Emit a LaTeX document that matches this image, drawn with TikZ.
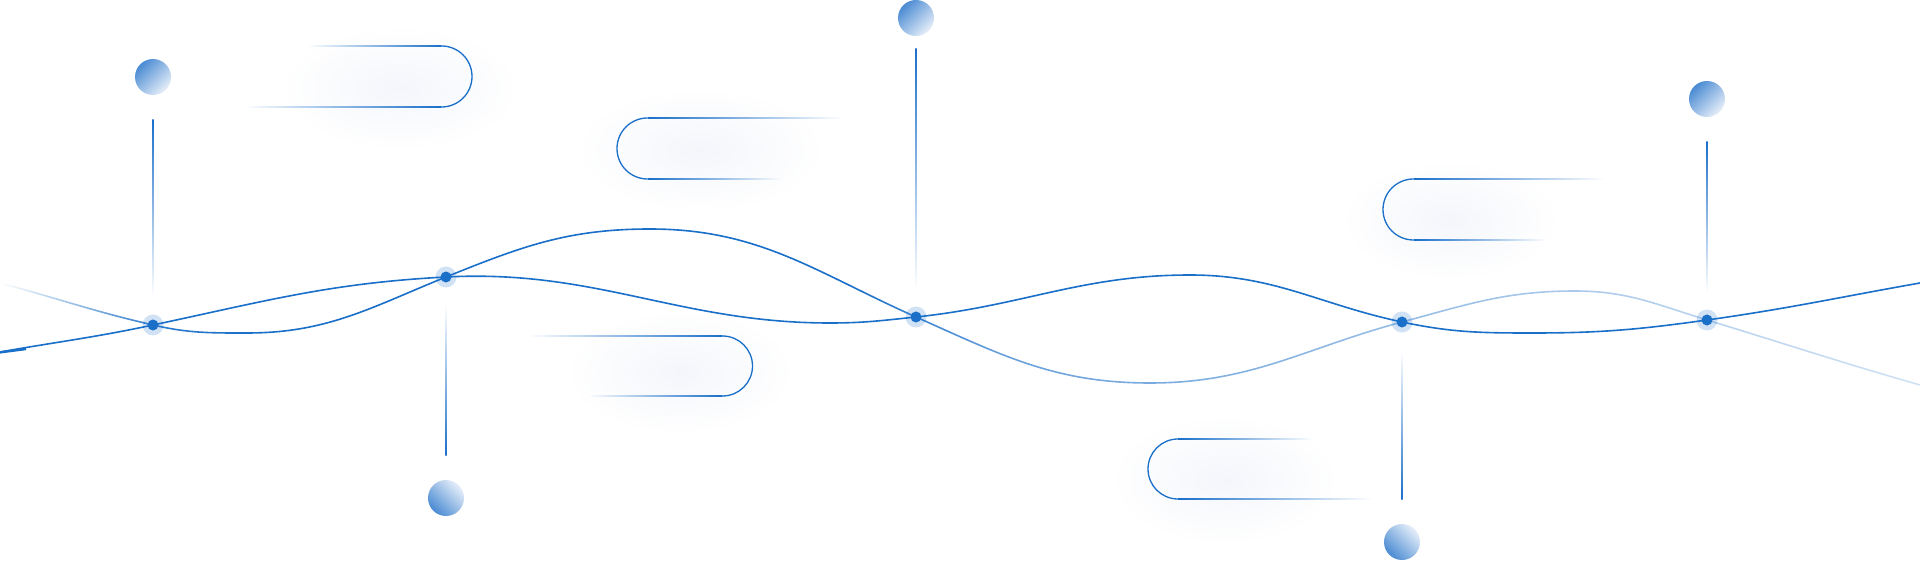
\documentclass[tikz,border=0pt]{standalone}
\usetikzlibrary{fadings}

\definecolor{lineblue}{HTML}{1A6FC9}
\definecolor{orbdark}{HTML}{4A8BD3}
\definecolor{orblight}{HTML}{E6EEF9}
\definecolor{glowcol}{HTML}{F4F6FB}

% Fondu de la deuxieme courbe
\begin{tikzfadingfrompicture}[name=wavefade, x=1pt, y=1pt]
  \shade[left color=transparent!100, right color=transparent!10] (0,0) rectangle (151,560);
  \shade[left color=transparent!10, right color=transparent!0] (150,0) rectangle (251,560);
  \fill[transparent!0] (250,0) rectangle (851,560);
  \shade[left color=transparent!0, right color=transparent!35] (850,0) rectangle (1001,560);
  \shade[left color=transparent!35, right color=transparent!55] (1000,0) rectangle (1401,560);
  \shade[left color=transparent!55, right color=transparent!80] (1400,0) rectangle (1920,560);
\end{tikzfadingfrompicture}

\begin{document}
\begin{tikzpicture}[x=1pt, y=1pt,
    wave/.style={draw=lineblue, line width=1.6pt},
    pilledge/.style={draw=lineblue, line width=1.3pt},
    faderight/.style={left color=white, right color=lineblue},
    fadeleft/.style={left color=lineblue, right color=white},
    glowspot/.style={inner color=glowcol, outer color=white},
    halo/.style={circle, inner sep=0pt, minimum size=21pt, fill=lineblue, fill opacity=0.2},
    pointdot/.style={circle, inner sep=0pt, minimum size=11pt, fill=lineblue},
    orbup/.style={circle, inner sep=0pt, minimum size=36pt, top color=orbdark, bottom color=orblight, shading angle=45},
    orbdown/.style={orbup, shading angle=135}
]

% Fond
\useasboundingbox (0,0) rectangle (1920,560);
\fill[white] (0,0) rectangle (1920,560);

% Lueurs
\shade[glowspot] (400,472) ellipse (120 and 62);
\shade[glowspot] (700,410) ellipse (125 and 62);
\shade[glowspot] (680,188) ellipse (115 and 62);
\shade[glowspot] (1450,340) ellipse (110 and 60);
\shade[glowspot] (1225,80) ellipse (115 and 65);

% Bulles
\shade[faderight] (307,513.35) rectangle (441.5,514.65);
\shade[faderight] (243,452.35) rectangle (441.5,453.65);
\draw[pilledge] (441.5,514) arc[start angle=90, end angle=-90, radius=30.5];

\shade[fadeleft] (647.5,441.35) rectangle (843,442.65);
\shade[fadeleft] (647.5,380.35) rectangle (783,381.65);
\draw[pilledge] (647.5,442) arc[start angle=90, end angle=270, radius=30.5];

\shade[faderight] (527,223.35) rectangle (722.5,224.65);
\shade[faderight] (587,163.35) rectangle (722.5,164.65);
\draw[pilledge] (722.5,224) arc[start angle=90, end angle=-90, radius=30];

\shade[fadeleft] (1413.5,380.35) rectangle (1605,381.65);
\shade[fadeleft] (1413.5,319.35) rectangle (1547,320.65);
\draw[pilledge] (1413.5,381) arc[start angle=90, end angle=270, radius=30.5];

\shade[fadeleft] (1178,120.35) rectangle (1313,121.65);
\shade[fadeleft] (1178,60.35) rectangle (1373,61.65);
\draw[pilledge] (1178,121) arc[start angle=90, end angle=270, radius=30];

% Courbes
\draw[wave] (0,208) to[out=10, in=192] (153,235) to[out=12, in=183] (446,283)
  to[out=3, in=180] (830,237) to[out=0, in=186] (916,243) to[out=6, in=180] (1190,285)
  to[out=0, in=168] (1402,238) to[out=-12, in=180] (1533,227) to[out=0, in=188] (1707,240)
  to[out=8, in=190] (1920,277);
\draw[wave, path fading=wavefade, fit fading=false, fading transform={shift={(960pt,280pt)}}]
  (0,277) to[out=-15, in=167] (153,235) to[out=-13, in=180] (247,227) to[out=0, in=202] (446,283)
  to[out=22, in=180] (650,331) to[out=0, in=156] (916,243) to[out=-24, in=180] (1150,177)
  to[out=0, in=195] (1402,238) to[out=15, in=180] (1575,269) to[out=0, in=163] (1707,240)
  to[out=-17, in=164] (1920,175);
\draw[wave, line width=2.4pt] (0,207.6) -- (26,211);

% Points
\node[halo] (h1) at (153,235) {};
\node[pointdot] (d1) at (153,235) {};
\node[halo] (h2) at (446,283) {};
\node[pointdot] (d2) at (446,283) {};
\node[halo] (h3) at (916,243) {};
\node[pointdot] (d3) at (916,243) {};
\node[halo] (h4) at (1402,238) {};
\node[pointdot] (d4) at (1402,238) {};
\node[halo] (h5) at (1707,240) {};
\node[pointdot] (d5) at (1707,240) {};

% Boules
\node[orbup] (b1) at (153,483) {};
\node[orbdown] (b2) at (446,62) {};
\node[orbup] (b3) at (916,542) {};
\node[orbdown] (b4) at (1402,18) {};
\node[orbup] (b5) at (1707,461) {};

% Tiges
\shade[top color=lineblue, bottom color=white] ([xshift=-0.65pt, yshift=-24pt]b1.south) rectangle ([xshift=0.65pt, yshift=22.5pt]d1.north);
\shade[top color=white, bottom color=lineblue] ([xshift=-0.65pt, yshift=-22.5pt]d2.south) rectangle ([xshift=0.65pt, yshift=24pt]b2.north);
\shade[top color=lineblue, bottom color=white] ([xshift=-0.65pt, yshift=-12pt]b3.south) rectangle ([xshift=0.65pt, yshift=21.5pt]d3.north);
\shade[top color=white, bottom color=lineblue] ([xshift=-0.65pt, yshift=-22.5pt]d4.south) rectangle ([xshift=0.65pt, yshift=24pt]b4.north);
\shade[top color=lineblue, bottom color=white] ([xshift=-0.65pt, yshift=-24pt]b5.south) rectangle ([xshift=0.65pt, yshift=21.5pt]d5.north);

\end{tikzpicture}
\end{document}
